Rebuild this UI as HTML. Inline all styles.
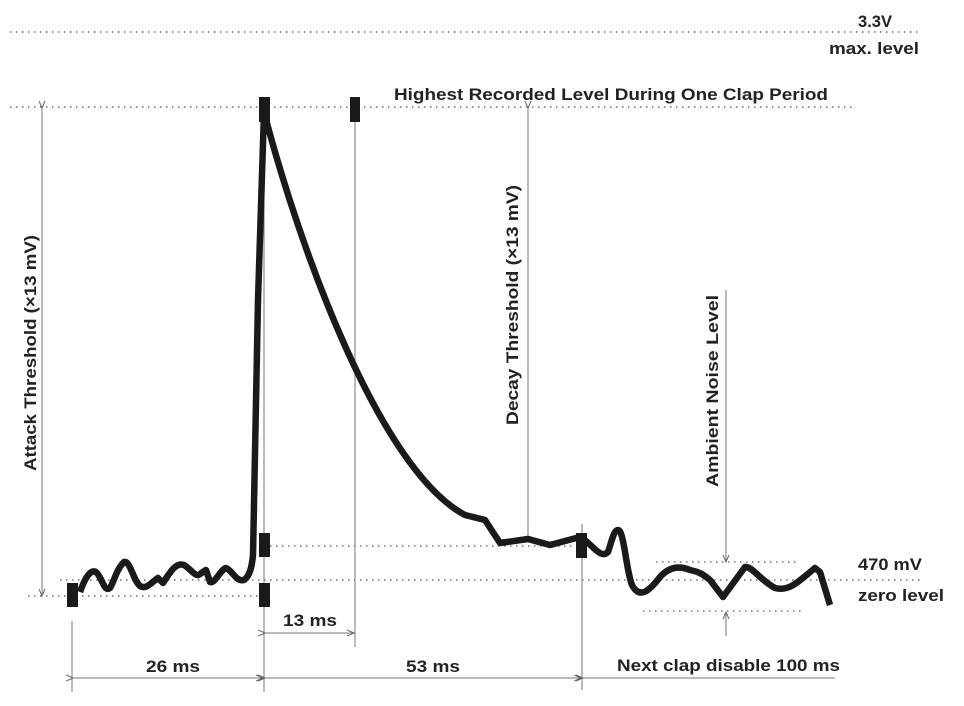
<!DOCTYPE html>
<html><head><style>body{margin:0;background:#fff}svg{display:block}</style></head><body>
<svg width="964" height="706" viewBox="0 0 964 706" xmlns="http://www.w3.org/2000/svg" font-family="Liberation Sans, sans-serif" font-weight="bold" fill="#222">
<defs><marker id="a" markerWidth="8" markerHeight="8" refX="7" refY="4" orient="auto"><path d="M0,1 L7,4 L0,7" fill="none" stroke="#666" stroke-width="1"/></marker></defs>
<g stroke="#555" stroke-width="1.3" stroke-dasharray="1.5 4.5" fill="none">
<line x1="10" y1="32" x2="920" y2="32"/>
<line x1="10" y1="107" x2="855" y2="107"/>
<line x1="28" y1="596" x2="265" y2="596"/>
<line x1="60" y1="580" x2="920" y2="580"/>
<line x1="270" y1="546" x2="580" y2="546"/>
<line x1="656" y1="562" x2="800" y2="562"/>
<line x1="643" y1="611" x2="802" y2="611"/>
</g>
<g stroke="#777" stroke-width="1" fill="none">
<line x1="42" y1="108" x2="42" y2="596" marker-start="url(#a)" marker-end="url(#a)"/>
<line x1="528" y1="108" x2="528" y2="540" marker-start="url(#a)"/>
<line x1="264" y1="120" x2="264" y2="692"/>
<line x1="355" y1="120" x2="355" y2="647"/>
<line x1="72" y1="621" x2="72" y2="692"/>
<line x1="582" y1="524" x2="582" y2="690"/>
<line x1="726" y1="290" x2="726" y2="562" marker-end="url(#a)"/>
<line x1="726" y1="636" x2="726" y2="612" marker-end="url(#a)"/>
<line x1="265" y1="633" x2="354" y2="633" marker-start="url(#a)" marker-end="url(#a)"/>
<line x1="73" y1="678" x2="263" y2="678" marker-start="url(#a)" marker-end="url(#a)"/>
<line x1="265" y1="678" x2="581" y2="678" marker-start="url(#a)" marker-end="url(#a)"/>
<line x1="583" y1="678" x2="835" y2="678" marker-start="url(#a)"/>
</g>
<path d="M80,592 C86,575 92,568 97,573 C103,580 104,592 110,588 C114,582 116,570 124,562 C130,560 133,580 140,586 C146,590 152,582 158,578 L163,583 C170,572 176,562 184,565 C192,570 196,578 200,574 L206,570 L210,582 C215,584 220,570 226,568 C232,570 236,582 244,580 C250,576 252,566 253,555 L258,300 L264,112 C300,250 380,470 465,515 L485,520 L500,543 L528,539 L550,545 L580,537 C592,543 600,560 608,552 C612,540 614,530 618,530 C624,530 626,570 632,585 C640,600 650,590 660,577 C668,568 678,565 690,570 C700,572 704,575 710,580 L723,597 L745,567 C752,566 760,580 775,588 C790,592 800,580 815,568 L820,572 L830,605" fill="none" stroke="#1a1a1a" stroke-width="6.5" stroke-linejoin="round"/>
<g fill="#1a1a1a">
<rect x="259" y="97" width="11" height="25"/><rect x="350" y="97" width="10" height="25"/>
<rect x="67" y="583" width="11" height="24"/><rect x="259" y="583" width="11" height="24"/>
<rect x="259" y="533" width="11" height="24"/><rect x="576" y="533" width="11" height="25"/>
</g>
<g font-size="17">
<text x="858" y="27" textLength="34" lengthAdjust="spacingAndGlyphs">3.3V</text>
<text x="829" y="54" textLength="90" lengthAdjust="spacingAndGlyphs">max. level</text>
<text x="394" y="100" textLength="434" lengthAdjust="spacingAndGlyphs">Highest Recorded Level During One Clap Period</text>
<text x="858" y="570" textLength="64" lengthAdjust="spacingAndGlyphs">470 mV</text>
<text x="858" y="601" textLength="86" lengthAdjust="spacingAndGlyphs">zero level</text>
<text x="283" y="626" textLength="54" lengthAdjust="spacingAndGlyphs">13 ms</text>
<text x="146" y="672" textLength="54" lengthAdjust="spacingAndGlyphs">26 ms</text>
<text x="406" y="672" textLength="54" lengthAdjust="spacingAndGlyphs">53 ms</text>
<text x="617" y="671" textLength="223" lengthAdjust="spacingAndGlyphs">Next clap disable 100 ms</text>
<text transform="translate(36,471) rotate(-90)" textLength="236" lengthAdjust="spacingAndGlyphs">Attack Threshold (×13 mV)</text>
<text transform="translate(518,425) rotate(-90)" textLength="240" lengthAdjust="spacingAndGlyphs">Decay Threshold (×13 mV)</text>
<text transform="translate(718,487) rotate(-90)" textLength="192" lengthAdjust="spacingAndGlyphs">Ambient Noise Level</text>
</g>
</svg>
</body></html>
